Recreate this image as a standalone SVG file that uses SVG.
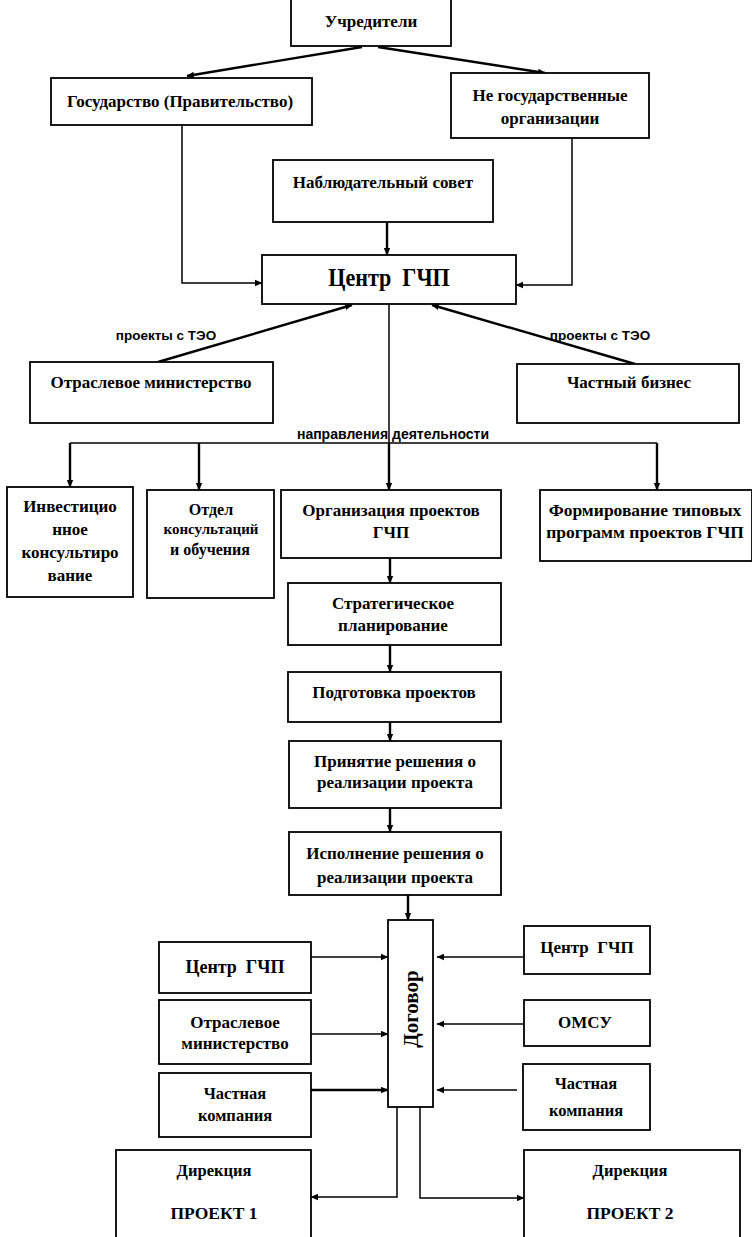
<svg xmlns="http://www.w3.org/2000/svg" width="752" height="1237" viewBox="0 0 752 1237" font-size="17">
<defs>
<marker id="ah" markerWidth="8" markerHeight="8" refX="7" refY="4" orient="auto" markerUnits="userSpaceOnUse">
<path d="M0,0.8 L7.5,4 L0,7.2 Z" fill="#000"/>
</marker>
<style>
rect.b{fill:#fff;stroke:#000;stroke-width:1.8}
text{font-family:"Liberation Serif","Times New Roman",serif;font-weight:bold;fill:#000;text-anchor:middle}
.s{font-family:"Liberation Sans",Arial,sans-serif}
.c{stroke:#000;fill:none}
.thin{stroke-width:1.5}
.thk{stroke-width:2.4}
</style>
</defs>
<rect width="752" height="1237" fill="#fff"/>

<g id="connectors">
<line class="c thk" x1="362" y1="47" x2="187" y2="76" marker-end="url(#ah)"/>
<line class="c thk" x1="378" y1="47" x2="545" y2="73" marker-end="url(#ah)"/>
<polyline class="c thin" points="182,125 182,283 262,283" marker-end="url(#ah)"/>
<polyline class="c thin" points="572,138 572,285 516,285" marker-end="url(#ah)"/>
<line class="c thk" x1="387" y1="222" x2="387" y2="255" marker-end="url(#ah)"/>
<line class="c thk" x1="158" y1="362" x2="352" y2="305" marker-end="url(#ah)"/>
<line class="c thk" x1="635" y1="364" x2="432" y2="305" marker-end="url(#ah)"/>
<line class="c thin" x1="389" y1="304" x2="389" y2="443"/>
<line class="c thin" x1="70" y1="443" x2="657" y2="443"/>
<line class="c thk" x1="70" y1="443" x2="70" y2="487" marker-end="url(#ah)"/>
<line class="c thk" x1="199" y1="443" x2="199" y2="490" marker-end="url(#ah)"/>
<line class="c thk" x1="389" y1="443" x2="389" y2="490" marker-end="url(#ah)"/>
<line class="c thk" x1="657" y1="443" x2="657" y2="490" marker-end="url(#ah)"/>
<line class="c thk" x1="390" y1="558" x2="390" y2="583" marker-end="url(#ah)"/>
<line class="c thk" x1="390" y1="645" x2="390" y2="672" marker-end="url(#ah)"/>
<line class="c thk" x1="390" y1="722" x2="390" y2="741" marker-end="url(#ah)"/>
<line class="c thk" x1="390" y1="808" x2="390" y2="832" marker-end="url(#ah)"/>
<line class="c thk" x1="408" y1="895" x2="408" y2="920" marker-end="url(#ah)"/>
<line class="c thin" x1="311" y1="957" x2="388" y2="957" marker-end="url(#ah)"/>
<line class="c thin" x1="311" y1="1034" x2="388" y2="1034" marker-end="url(#ah)"/>
<line class="c thk" x1="311" y1="1090" x2="388" y2="1090" marker-end="url(#ah)"/>
<line class="c thin" x1="524" y1="957" x2="437" y2="957" marker-end="url(#ah)"/>
<line class="c thin" x1="524" y1="1024" x2="437" y2="1024" marker-end="url(#ah)"/>
<line class="c thin" x1="517" y1="1090" x2="437" y2="1090" marker-end="url(#ah)"/>
<polyline class="c thin" points="397,1107 397,1197 311,1197" marker-end="url(#ah)"/>
<polyline class="c thin" points="420,1107 420,1198 524,1198" marker-end="url(#ah)"/>
<text class="s" x="166" y="340" font-size="13.5">проекты с ТЭО</text>
<text class="s" x="600" y="340" font-size="13.5">проекты с ТЭО</text>
<text class="s" x="393" y="439" font-size="14">направления деятельности</text>
</g>

<g id="n-uchrediteli">
<rect class="b" x="291" y="-2" width="160" height="48"/>
<text x="371" y="27">Учредители</text>
</g>
<g id="n-gosudarstvo">
<rect class="b" x="51" y="78" width="261" height="47"/>
<text x="180" y="107">Государство (Правительство)</text>
</g>
<g id="n-negos">
<rect class="b" x="451" y="73" width="198" height="65"/>
<text x="550" y="101">Не государственные</text>
<text x="550" y="124">организации</text>
</g>
<g id="n-nabl">
<rect class="b" x="273" y="160" width="220" height="62"/>
<text x="383" y="188">Наблюдательный совет</text>
</g>
<g id="n-centr">
<rect class="b" x="262" y="255" width="254" height="49"/>
<text x="0" y="0" font-size="26" transform="translate(389,286) scale(0.85,1)" xml:space="preserve">Центр  ГЧП</text>
</g>
<g id="n-otrasl">
<rect class="b" x="30" y="362" width="243" height="61"/>
<text x="151" y="388">Отраслевое министерство</text>
</g>
<g id="n-chastny">
<rect class="b" x="517" y="364" width="222" height="59"/>
<text x="629" y="388">Частный бизнес</text>
</g>
<g id="n-invest">
<rect class="b" x="7" y="487" width="126" height="110"/>
<text x="70" y="512">Инвестицио</text>
<text x="70" y="535">нное</text>
<text x="70" y="558">консультиро</text>
<text x="70" y="581">вание</text>
</g>
<g id="n-otdel">
<rect class="b" x="147" y="490" width="127" height="108"/>
<text x="211" y="515" font-size="16">Отдел</text>
<text x="211" y="534" font-size="15">консультаций</text>
<text x="210" y="555" font-size="16">и обучения</text>
</g>
<g id="n-org">
<rect class="b" x="281" y="490" width="220" height="68"/>
<text x="391" y="516">Организация проектов</text>
<text x="391" y="538">ГЧП</text>
</g>
<g id="n-form">
<rect class="b" x="540" y="490" width="212" height="71"/>
<text x="645" y="516" font-size="17.5">Формирование типовых</text>
<text x="645" y="538" font-size="17.5">программ проектов ГЧП</text>
</g>
<g id="n-strat">
<rect class="b" x="288" y="583" width="213" height="62"/>
<text x="393" y="609">Стратегическое</text>
<text x="393" y="631">планирование</text>
</g>
<g id="n-podg">
<rect class="b" x="288" y="672" width="213" height="50"/>
<text x="394" y="698">Подготовка проектов</text>
</g>
<g id="n-prin">
<rect class="b" x="289" y="741" width="212" height="67"/>
<text x="395" y="767">Принятие решения о</text>
<text x="395" y="788">реализации проекта</text>
</g>
<g id="n-isp">
<rect class="b" x="289" y="832" width="212" height="63"/>
<text x="395" y="859">Исполнение решения о</text>
<text x="395" y="883">реализации проекта</text>
</g>
<g id="n-dogovor">
<rect class="b" x="388" y="920" width="45" height="187"/>
<text x="0" y="0" font-size="21" transform="translate(418,1009) rotate(-90)">Договор</text>
</g>
<g id="n-centr2">
<rect class="b" x="159" y="942" width="152" height="51"/>
<text x="235" y="973" font-size="18" xml:space="preserve">Центр  ГЧП</text>
</g>
<g id="n-otrasl2">
<rect class="b" x="159" y="1000" width="152" height="64"/>
<text x="235" y="1028">Отраслевое</text>
<text x="235" y="1049">министерство</text>
</g>
<g id="n-chastn2">
<rect class="b" x="159" y="1073" width="152" height="64"/>
<text x="235" y="1099" font-size="16.5">Частная</text>
<text x="235" y="1121" font-size="16.5">компания</text>
</g>
<g id="n-centr3">
<rect class="b" x="524" y="926" width="126" height="48"/>
<text x="587" y="953" xml:space="preserve">Центр  ГЧП</text>
</g>
<g id="n-omsu">
<rect class="b" x="524" y="1000" width="126" height="46"/>
<text x="585" y="1028">ОМСУ</text>
</g>
<g id="n-chastn3">
<rect class="b" x="523" y="1064" width="127" height="66"/>
<text x="586" y="1089" font-size="16.5">Частная</text>
<text x="586" y="1116" font-size="16.5">компания</text>
</g>
<g id="n-proekt1">
<rect class="b" x="116" y="1150" width="195" height="95"/>
<text x="214" y="1176" font-size="16.5">Дирекция</text>
<text x="214" y="1219" font-weight="normal" font-size="17.5">ПРОЕКТ 1</text>
</g>
<g id="n-proekt2">
<rect class="b" x="524" y="1150" width="216" height="95"/>
<text x="630" y="1176" font-size="16.5">Дирекция</text>
<text x="630" y="1219" font-weight="normal" font-size="17.5">ПРОЕКТ 2</text>
</g>
</svg>
